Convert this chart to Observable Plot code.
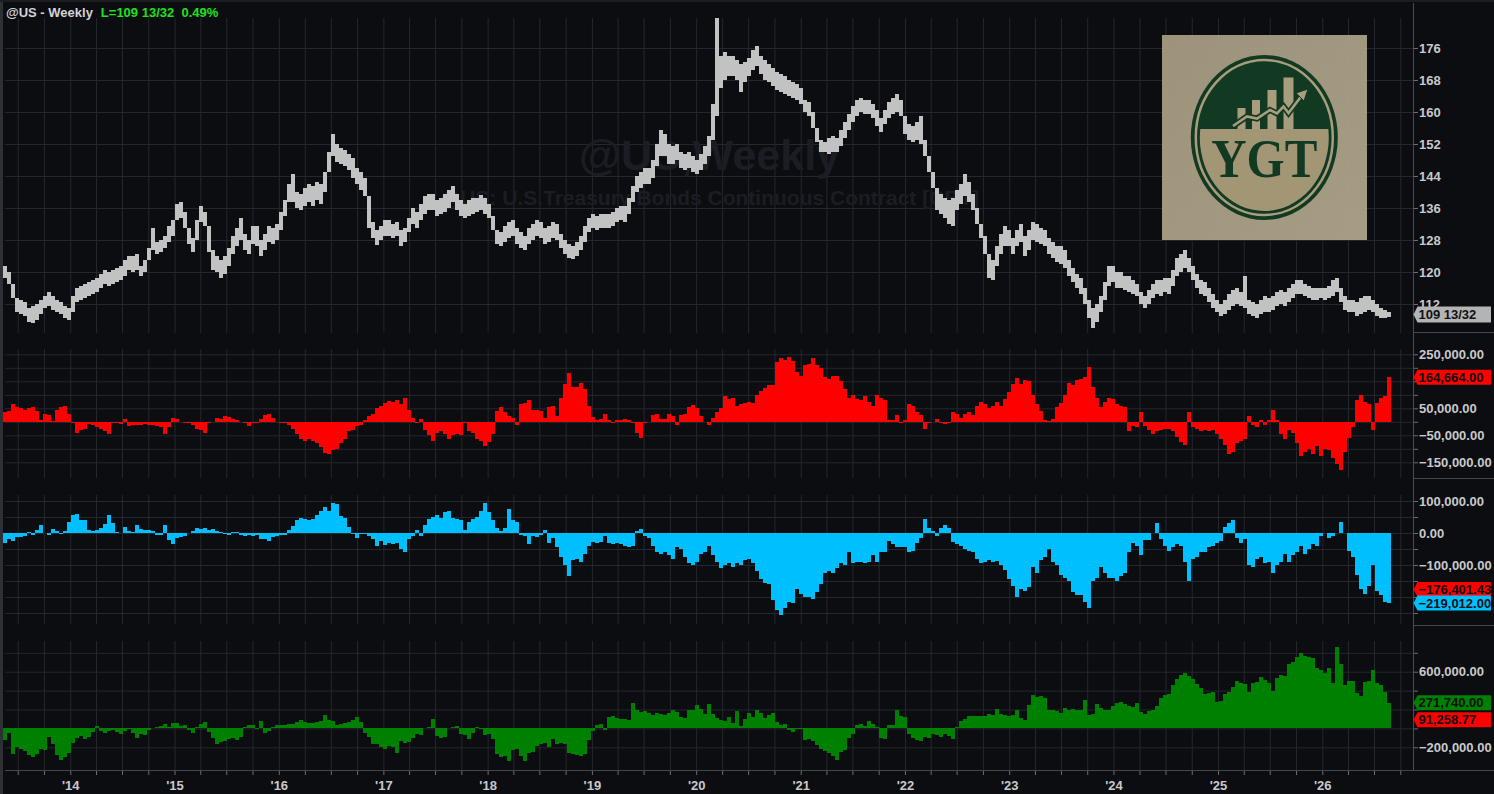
<!DOCTYPE html>
<html><head><meta charset="utf-8">
<script src="https://cdn.jsdelivr.net/npm/d3@7"></script>
<script src="https://cdn.jsdelivr.net/npm/@observablehq/plot@0.6"></script>
<style>
html,body{margin:0;padding:0;background:#0c0d10;overflow:hidden;}
#chart{position:relative;width:1494px;height:794px;overflow:hidden;background:#0c0d10;}
#chart svg{position:absolute;left:0;max-width:none !important;}
</style></head><body><div id="chart"></div>
<script>
// ---------------- DATA (bi-weekly samples starting 2013-05-17) ----------------
const symbol = "@US - Weekly";
const lastInfo = "L=109 13/32  0.49%";
const priceLastText = "109 13/32";
const priceLast = 109 + 13/32;
const startDate = "2013-05-17";
const stepDays = 14;

// U.S. T-Bond continuous contract, high / low of each 2-week sample
const priceHigh = [
121.5,120,117,113.5,113,112.5,111,111.5,112,113,
114,115,114,113,112.5,111.5,111,114,116,116.5,
117,117.5,118,118.5,119.5,120.5,120,120.5,121,121.5,
123,124,124,124.5,121.5,123,126,131,127.5,128,
129,131.5,133,137,137.5,135,131,128.5,133,136.5,
135,131.5,125.5,124,123,124,126,129,131,133.5,
129.5,128,131.5,131.5,128,129.5,131.5,131,132,135,
138,142,144.5,140,139.5,141,142,141.5,142.5,142,
145,150,154.5,152,151,150.5,149.5,148.5,146,145,
143.5,139,132.5,130.5,131.5,133,133,132,132.5,130.5,
131,133.5,136,135,137,139,139.5,139.5,138,138.5,
139.5,140.5,141.5,139.5,138,137,138,138.5,138.5,139.2,
138.5,137,134,130.5,130,131.5,132.5,133,131,130,
129,131,132,133,132.5,131,131.5,132.5,132,129.5,
128,127,126.5,127.5,129,131.5,133.5,134.5,134,134.5,
134.5,134.5,135,136,136.5,136.5,138.5,141.5,144,145,
146,146,148,152,155.5,154.5,152,151.5,152,150,
149.5,150,149,148,149.5,151.5,154,162,183.5,174,
175,174,174,173,172,172.5,173.5,175.5,176.5,174,
173,172,171,170,169.5,169,168,167.5,167,166,
163,162.5,160,156,153,152.5,153.5,154,153.5,155.5,
157.5,159.5,161.5,163,163.5,163,163,162,160.5,158.5,
160.5,162.5,163.5,164.5,163,159,157,156.5,157.5,159,
153,149,145,141,139.5,138.5,138,138.5,140.5,142,
144.5,142.5,139.5,136,132,129,124.5,123,126.5,129.5,
131.5,130.5,128.5,130.5,132,129,130.5,132.5,132,131,
130.5,128.5,127.5,126.5,126.5,125.5,123,121,119.5,118.5,
116,113,111,112,114,117.5,121.5,121.5,120,120,
119,119,118,117,115,114,115.5,117,118,118,
118.5,118.5,120.5,123.5,124.5,125.5,123.5,121.5,119.5,118,
117.5,116,114.5,113,112,113,114.5,115.5,116,115,
119,113,112.5,112,113,114,113.5,114,115,115.5,
115,116,117,118,118,117,116.5,116,116,116,
116,116.5,118,118.5,116,114,113,113,112.5,113.5,
114,114,113,112,111,110.5,110];
const priceLow = [
118.5,117,113.5,110,109.5,109,107.5,107.2,108,109.5,
111,111.5,110.5,110,109.5,108.5,108,110,112.5,113,
113.5,114,114.5,115,116,117,116.5,117,117.5,118,
119,120.5,120,120.5,119,120,123,125.5,124.5,125,
126,127.5,129,133,133.5,131,127,125,128,132.5,
131.5,125,120.5,120,118.5,119.5,121.5,124.5,126.5,128,
125.5,124.5,127,126.5,124,125.5,127.5,127,128,130.5,
134,137.5,137.5,136,135.5,136.5,137.5,136.5,138,137,
140,145,149,147.5,147,146.5,145.5,143.5,142,140.5,
139,131,128.5,126.8,128,129,129,128.5,129,126.5,
127.5,130,132,131,133,134.5,135.5,135.5,134,134.5,
135,136,137.5,135.5,134,133.5,134,134.5,135,135.5,
134.5,133.5,130.5,127,126.5,127.5,128.5,129,127,126,
125.5,127,128,129,128.5,127,127.5,128.5,128,126,
124.5,123.5,123.2,124,125.5,127.5,130,131,130.5,131,
131,131,131.5,132.5,133,132.5,134.5,137.5,140,141,
142,142,143.5,146.5,149,149,147,147,148,146,
145.5,146,145,144.5,145.5,147,149,153,159,166,
168,169,169,168,165,167.5,169,170.5,171.5,169.5,
168,167.5,166.5,165.5,165,164.5,164,163.5,163,162,
160,159,156,152.5,150,150,149.5,150,150,151.5,
153.5,155.5,157.5,159,160,159.5,159.5,158.5,156.5,155,
157,158.5,159.5,160,159,154.5,153,152.5,153,152,
149,145,141,135.5,134.5,133.5,132,131.5,135.5,137,
139,137.5,135.5,132,128.5,124.5,118.5,118,121.5,124.5,
126.5,126.5,124.5,126.5,127.5,124,125.5,128,127.5,127,
126.5,124.5,123.5,122.5,122,121,119,117.5,116,114.5,
112,108.5,106,107.5,110,113,116.5,117.5,116,116,
115.5,115,114.5,114,112,111,112,113.5,114.5,114,
115,114.5,116.5,119,120,121,120,118,116,114.5,
114,112.5,111,110,109,109.5,110.5,111.5,112,111.5,
111,109.5,109,108.5,109.5,110,110,110.5,111.5,112,
111.5,112.5,113.5,114.5,114.5,114,113.5,113,113,113.5,
113,113.5,114,115,112.5,110.5,110,110,109,109.5,
110,110.5,110,109,108.5,108.5,108.8];

// net positions, thousands of contracts
const netRedK = [
35,40,65,55,50,45,50,55,40,8,
30,25,2,45,55,60,30,-5,-40,-30,
-25,-8,-10,-20,-25,-35,-45,-6,-5,-8,
10,-15,-12,-10,-12,-8,-10,-12,-15,-20,
-45,-20,15,10,0,-3,-5,-10,-25,-30,
-40,-3,-2,15,12,20,18,12,5,0,
-5,-15,-5,-3,10,25,28,15,0,-3,
-5,-12,-25,-45,-65,-70,-65,-70,-80,-95,
-115,-120,-105,-100,-80,-65,-35,-30,-15,-10,
5,20,30,50,60,70,78,72,80,65,
90,45,15,-5,10,-30,-50,-70,-40,-35,
-45,-65,-50,-45,-50,-5,-35,-40,-65,-70,
-90,-75,-45,40,55,35,20,15,-10,65,
70,80,45,45,40,15,55,60,20,90,
140,180,130,128,142,120,60,18,8,10,
30,5,-5,8,8,10,5,-5,-40,-60,
-5,0,25,30,12,12,28,20,-10,25,
28,55,62,50,20,0,-12,15,35,50,
95,85,90,60,65,70,75,70,100,115,
125,135,135,220,235,230,240,225,185,170,
210,215,235,210,200,165,160,170,170,150,
120,90,100,85,80,95,75,60,100,90,
80,5,5,25,-5,5,65,60,35,25,
-28,-5,0,10,-3,-8,-3,37,30,15,
28,35,25,60,75,65,50,60,75,60,
85,110,140,162,140,155,150,100,65,40,
8,3,10,55,70,100,145,135,155,160,
165,204,130,90,55,75,90,85,65,60,
55,-35,-15,-20,35,-15,-30,-45,-35,-30,
-28,-25,-35,-55,-75,-85,35,-20,-28,-35,
-30,-35,-30,-45,-65,-85,-120,-110,-80,-70,
-65,20,-12,-20,5,-10,8,45,5,-45,
-65,-30,-40,-80,-125,-110,-100,-120,-90,-125,
-100,-105,-135,-155,-178,-110,-60,-20,80,100,
75,65,-30,70,90,95,164.664];
const netCyanK = [
-30,-20,-25,-12,-12,-8,2,-5,8,25,
0,-5,12,5,-2,5,35,55,58,40,
40,10,5,8,15,28,55,30,2,0,
18,5,2,25,12,10,10,5,-6,-5,
25,-22,-35,-15,-12,-10,0,5,15,12,
15,8,12,5,3,-3,-5,2,3,-6,
-8,-5,-8,-5,-20,-20,-25,-12,-8,-6,
-5,10,22,40,48,45,42,45,55,68,
82,70,95,90,52,48,20,-2,-15,-3,
-4,-8,-20,-40,-25,-38,-30,-35,-30,-50,
-60,-20,-8,8,-10,25,45,50,55,48,
65,70,48,45,40,10,35,45,50,70,
95,65,40,15,5,15,75,40,35,-5,
-8,-35,-10,-12,-5,8,-30,-15,-45,-75,
-100,-135,-85,-80,-90,-65,-40,-28,-30,-28,
-8,-32,-35,-30,-33,-42,-45,-40,5,12,
-8,-15,-40,-60,-65,-60,-70,-80,-45,-50,
-75,-95,-100,-90,-65,-60,-40,-70,-90,-110,
-100,-95,-105,-95,-100,-85,-80,-95,-120,-145,
-155,-160,-210,-240,-255,-235,-215,-220,-175,-190,
-200,-200,-205,-185,-160,-125,-120,-125,-110,-95,
-100,-60,-95,-90,-90,-95,-90,-70,-90,-60,
-60,-25,-35,-45,-45,-45,-60,-55,-30,-15,
45,15,5,-10,15,25,15,-27,-35,-40,
-50,-55,-60,-80,-95,-90,-85,-90,-88,-100,
-115,-145,-165,-200,-175,-180,-170,-105,-125,-85,
-75,-50,-90,-100,-130,-140,-150,-185,-195,-195,
-215,-235,-150,-140,-105,-125,-140,-140,-150,-135,
-125,-60,-30,-40,-70,-22,-22,0,30,-20,
-40,-55,-45,-35,-40,-90,-150,-80,-75,-60,
-60,-45,-40,-30,-25,20,30,40,-15,-30,
-20,-100,-105,-80,-75,-95,-90,-125,-100,-90,
-65,-90,-70,-60,-40,-65,-50,-35,-40,-10,
0,-15,-10,0,35,0,-55,-75,-130,-175,
-190,-165,-100,-180,-195,-215,-219.012];
const netGreenK = [
-120,-50,-270,-200,-220,-240,-280,-300,-270,-220,
-230,-90,-160,-280,-330,-300,-260,-150,-100,-80,
-110,-90,-40,30,-30,-45,-30,-20,-40,-60,
-30,-10,-50,-100,-60,-70,-20,0,15,30,
45,20,60,55,30,35,-20,-50,20,50,
70,-35,-100,-170,-140,-130,-110,-100,-120,-90,
10,35,40,-10,80,-50,-30,15,40,35,
40,50,45,70,85,70,55,60,70,80,
140,90,80,40,50,55,65,85,120,65,
-50,-95,-160,-170,-200,-215,-190,-200,-260,-130,
-150,-140,-100,-60,-70,0,15,100,-80,-100,
-90,0,15,30,-60,-70,-110,-50,15,-5,
-70,-60,-110,-270,-300,-290,-340,-230,-220,-290,
-340,-260,-250,-190,-160,-150,-200,-110,-160,-150,
-170,-260,-270,-280,-290,-270,-120,-30,40,45,
-20,120,130,110,95,100,90,270,190,175,
180,160,145,165,150,145,160,190,175,120,
105,190,200,245,210,150,260,150,110,90,
80,120,60,180,30,100,160,120,200,160,
110,140,160,70,40,50,-20,-40,-5,-10,
-120,-110,-130,-180,-220,-240,-260,-290,-330,-250,
-230,-100,-60,40,45,30,80,50,20,-100,
-110,40,35,190,130,120,-60,-100,-125,-130,
-90,-100,-60,-70,-90,-60,-80,-110,10,80,
100,130,130,135,130,135,150,145,210,150,
140,135,140,190,115,90,250,350,335,340,
320,200,190,180,160,220,200,210,195,200,
300,145,150,260,220,200,195,240,270,275,
260,240,230,270,170,150,180,200,240,320,
350,360,460,520,560,590,555,520,470,430,
360,370,380,280,290,360,380,440,500,480,
470,380,480,490,540,510,480,400,530,560,
550,680,700,760,800,770,760,740,640,620,
590,640,480,860,680,460,500,505,370,340,
490,500,620,480,460,380,271.74];

// last values of companion (hidden) studies shown as flags
const cyanPaneRefLast = -176401.43;
const greenPaneRefLast = 91258.77;

// axis ticks (labels that sit under the value flags are left out)
const priceTicks = [112,120,128,136,144,152,160,168,176];
const redTicks = [250000,200000,150000,100000,50000,0,-50000,-100000,-150000];
const redLabels = [250000,50000,-50000,-150000];
const cyanTicks = [100000,50000,0,-50000,-100000,-150000,-200000,-250000];
const cyanLabels = [100000,0,-100000];
const greenTicks = [800000,600000,400000,200000,0,-200000];
const greenLabels = [600000,-200000];
const watermark1 = "@US,Weekly";
const watermark2 = "@US: U.S.Treasury Bonds Continuous Contract [CBT]";

// ---------------- BUILD ----------------
const W = 1494, H = 794;
const plotL = 5, plotR = 1413;
const DAY = 864e5;
const t0 = new Date(startDate + "T00:00:00Z");
const N = Math.min(priceHigh.length, priceLow.length, netRedK.length, netCyanK.length, netGreenK.length);
const rows = d3.range(N).map(i => ({
  date: new Date(+t0 + i * stepDays * DAY),
  high: priceHigh[i], low: priceLow[i],
  red: netRedK[i] * 1000, cyan: netCyanK[i] * 1000, green: netGreenK[i] * 1000
}));
const half = stepDays / 2 * DAY;
const x1 = d => new Date(+d.date - half);
const x2 = d => new Date(+d.date + half);

const quarters = d3.utcMonth.every(3).range(new Date(Date.UTC(2013,6,1)), new Date(Date.UTC(2026,11,1)));
const xScale = {type: "utc", domain: [new Date(Date.UTC(2014,0,1)), new Date(Date.UTC(2026,0,1))], range: [70.3, 1322.3], axis: null};

const grid = "#25272f";
const tickCol = "#6a6d75";
const labCol = "#c9c9cc";
const FONT = "Liberation Sans, Arial, sans-serif";
const fmt2 = d3.format(",.2f");

function dom(topAbs, botAbs, anchorAbs, anchorVal, pxPerUnit) {
  return [anchorVal - (botAbs - anchorAbs) / pxPerUnit, anchorVal + (anchorAbs - topAbs) / pxPerUnit];
}

const chart = document.getElementById("chart");

function pane({top, height, mt, mb, domain, ticks, labels, fmt, marks}) {
  const lab = new Set(labels);
  const svg = Plot.plot({
    width: W, height,
    marginLeft: plotL, marginRight: W - plotR, marginTop: mt, marginBottom: mb,
    x: xScale,
    y: {domain, label: null},
    style: {background: "transparent", overflow: "visible"},
    marks: [
      Plot.ruleX(quarters, {stroke: grid, strokeWidth: 1}),
      Plot.ruleY(ticks, {stroke: grid, strokeWidth: 1}),
      ...marks,
      Plot.axisY(ticks, {anchor: "right", tickSize: 4, tickPadding: 1.5, label: null,
        tickFormat: v => lab.has(v) ? fmt(v) : "",
        stroke: tickCol, fill: labCol, fontSize: 13, fontWeight: "bold", fontFamily: FONT})
    ]
  });
  svg.style.top = top + "px";
  chart.appendChild(svg);
  return svg;
}

const pricePane = pane({
  top: 0, height: 333, mt: 18, mb: 0,
  domain: dom(18, 333, 48, 176, 4),
  ticks: priceTicks, labels: priceTicks, fmt: d3.format("d"),
  marks: [
    Plot.text([watermark1], {frameAnchor: "middle", text: d => d, dy: -20, fill: "#1b1d24",
      fontSize: 43, fontWeight: "bold", fontFamily: FONT}),
    Plot.text([watermark2], {frameAnchor: "middle", text: d => d, dy: 22, fill: "#1b1d24",
      fontSize: 21, fontWeight: "bold", fontFamily: FONT}),
    Plot.rect(rows, {x1, x2, y1: "low", y2: "high", fill: "#c2c2c2", shapeRendering: "crispEdges"})
  ]
});

const redPane = pane({
  top: 333, height: 146, mt: 16, mb: 1,
  domain: dom(349, 478, 421.8, 0, 27 / 100000),
  ticks: redTicks, labels: redLabels, fmt: fmt2,
  marks: [Plot.rectY(rows, {x1, x2, y: "red", fill: "#ff0000", shapeRendering: "crispEdges"})]
});

const cyanPane = pane({
  top: 479, height: 147, mt: 16, mb: 2,
  domain: dom(495, 624, 533, 0, 32 / 100000),
  ticks: cyanTicks, labels: cyanLabels, fmt: fmt2,
  marks: [Plot.rectY(rows, {x1, x2, y: "cyan", fill: "#00bfff", shapeRendering: "crispEdges"})]
});

const greenPane = pane({
  top: 626, height: 145, mt: 15, mb: 1,
  domain: dom(641, 770, 728.4, 0, 9.45 / 100000),
  ticks: greenTicks, labels: greenLabels, fmt: fmt2,
  marks: [Plot.rectY(rows, {x1, x2, y: "green", fill: "#008000", shapeRendering: "crispEdges"})]
});

// bottom time axis
const xAxis = Plot.plot({
  width: W, height: 27, marginLeft: plotL, marginRight: W - plotR, marginTop: 0, marginBottom: 23,
  x: {type: "utc", domain: xScale.domain, range: xScale.range},
  style: {background: "transparent", overflow: "visible"},
  marks: [
    Plot.axisX(quarters, {anchor: "bottom", tickSize: 4, tickPadding: 5, label: null,
      tickFormat: d => d.getUTCMonth() === 0 ? "'" + String(d.getUTCFullYear()).slice(2) : "",
      stroke: tickCol, fill: labCol, fontSize: 13, fontWeight: "bold", fontFamily: FONT})
  ]
});
xAxis.style.top = "767px";
chart.appendChild(xAxis);

// ---------------- overlay: frame, title, flags, logo ----------------
const ov = d3.select(chart).append("svg").attr("width", W).attr("height", H)
  .style("top", "0px").style("pointer-events", "none")
  .attr("font-family", FONT);

ov.append("rect").attr("x", 0).attr("y", 0).attr("width", 3).attr("height", H).attr("fill", "#2e3036");
ov.append("rect").attr("x", 0).attr("y", 0).attr("width", W).attr("height", 2).attr("fill", "#1c1d22");
ov.append("line").attr("x1", plotR + 0.5).attr("x2", plotR + 0.5).attr("y1", 3).attr("y2", 771)
  .attr("stroke", "#4a4c55");
for (const y of [332.5, 478.5, 625.5, 770.5]) {
  ov.append("line").attr("x1", plotR).attr("x2", W).attr("y1", y).attr("y2", y).attr("stroke", "#45474f");
}
ov.append("line").attr("x1", plotL).attr("x2", plotR).attr("y1", 770.5).attr("y2", 770.5).attr("stroke", "#45474f");

// title
const tt = ov.append("text").attr("x", 6).attr("y", 16.5).attr("font-size", 13).attr("font-weight", "bold")
  .style("white-space", "pre");
tt.append("tspan").attr("fill", "#d4d4d8").text(symbol);
tt.append("tspan").attr("fill", "#1fe21f").attr("dx", 8).text(lastInfo);

// value flags
function flag(paneSvg, top, v, txt, fill, h = 15) {
  const y = top + paneSvg.scale("y").apply(v);
  const hh = h / 2;
  ov.append("path")
    .attr("d", `M${plotR + 0.5},${y} L${plotR + 4.5},${y - hh} L1491,${y - hh} L1491,${y + hh} L${plotR + 4.5},${y + hh} Z`)
    .attr("fill", fill);
  ov.append("text").attr("x", 1418.5).attr("y", y).attr("dy", "0.36em")
    .attr("font-size", 13).attr("font-weight", "bold").attr("fill", "#101010").text(txt);
}
const last = rows[rows.length - 1];
flag(pricePane, 0, priceLast, priceLastText, "#b4b4b4", 16);
flag(redPane, 333, last.red, fmt2(last.red), "#ff0000");
flag(cyanPane, 479, cyanPaneRefLast, fmt2(cyanPaneRefLast), "#ff0000");
flag(cyanPane, 479, last.cyan, fmt2(last.cyan), "#00bfff");
flag(greenPane, 626, last.green, fmt2(last.green), "#008000");
flag(greenPane, 626, greenPaneRefLast, fmt2(greenPaneRefLast), "#ff0000");

// logo
const lg = ov.append("g");
const defs = ov.append("defs");
const grad = defs.append("linearGradient").attr("id", "lgbg").attr("x1", 0).attr("y1", 0).attr("x2", 1).attr("y2", 1);
grad.append("stop").attr("offset", "0%").attr("stop-color", "#a79d82");
grad.append("stop").attr("offset", "100%").attr("stop-color", "#b0a78c");
defs.append("clipPath").attr("id", "inner").append("ellipse")
  .attr("cx", 1264.3).attr("cy", 137.5).attr("rx", 64.5).attr("ry", 73.5);
const dark = "#123a22", tan = "#a89d7d";
lg.append("rect").attr("x", 1162).attr("y", 35).attr("width", 205).attr("height", 205)
  .attr("fill", "url(#lgbg)").attr("opacity", 0.93);
lg.append("ellipse").attr("cx", 1264.3).attr("cy", 137.5).attr("rx", 73.5).attr("ry", 82.5).attr("fill", dark);
lg.append("ellipse").attr("cx", 1264.3).attr("cy", 137.5).attr("rx", 68.5).attr("ry", 77.5)
  .attr("fill", "none").attr("stroke", tan).attr("stroke-width", 2.5);
lg.append("rect").attr("x", 1190).attr("y", 129).attr("width", 150).attr("height", 100)
  .attr("rx", 6).attr("fill", "#a39674").attr("clip-path", "url(#inner)");
for (const [bx, by, bw] of [[1237.5, 108, 8], [1252, 100, 8], [1267.5, 90, 9], [1283.5, 77.5, 10]]) {
  lg.append("rect").attr("x", bx).attr("y", by).attr("width", bw).attr("height", 129 - by).attr("fill", tan);
}
const arrowPts = "1233,126 1247,116.5 1257,118.5 1270,110 1277,113.5 1283.5,106.5 1288.5,113 1303,94";
lg.append("polyline").attr("points", arrowPts).attr("fill", "none").attr("stroke", dark).attr("stroke-width", 6);
lg.append("polyline").attr("points", arrowPts).attr("fill", "none").attr("stroke", tan).attr("stroke-width", 2.6);
lg.append("path").attr("d", "M1308,89 L1296,93 L1304,101 Z").attr("fill", tan).attr("stroke", dark).attr("stroke-width", 1);
lg.append("text").attr("x", 1264.3).attr("y", 177).attr("text-anchor", "middle")
  .attr("font-family", "Liberation Serif, DejaVu Serif, serif").attr("font-weight", "bold")
  .attr("font-size", 55).attr("textLength", 106).attr("lengthAdjust", "spacingAndGlyphs")
  .attr("fill", dark).text("YGT");
</script></body></html>
